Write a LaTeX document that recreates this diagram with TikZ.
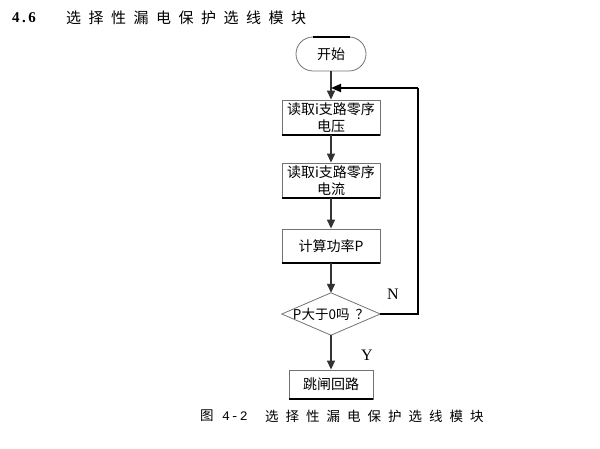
\documentclass[tikz,border=0pt]{standalone}
\usepackage{fontspec}
\setmainfont{Liberation Serif}
\newfontfamily\cjk{Noto Sans CJK SC}
\newfontfamily\latm{Liberation Mono}
\usetikzlibrary{arrows.meta,shapes.geometric}
\newcommand\tgap{\hspace{7.5pt}}
\newcommand\cgap{\hspace{7pt}}
\tikzset{
  flowbox/.style={draw=black!55, line width=0.8pt, minimum width=98pt, minimum height=35pt,
    inner sep=0pt, align=center, font=\cjk\fontsize{14}{17}\selectfont},
  startbox/.style={draw=black!55, line width=0.8pt, rounded corners=17pt, minimum width=70pt,
    minimum height=34pt, inner sep=0pt, font=\cjk\fontsize{14}{17}\selectfont},
  botline/.style={line width=2pt, black},
  conn/.style={line width=1.4pt, black!80, -{Triangle[width=8pt,length=9pt]}},
  loopline/.style={line width=1.8pt, black},
  lbl/.style={font=\fontsize{16}{18}\selectfont, inner sep=0pt},
}
\begin{document}
\begin{tikzpicture}[x=1pt,y=-1pt]
\useasboundingbox (0,0) rectangle (600,449);
% title
\node[anchor=west, inner sep=0pt, font=\bfseries\fontsize{15}{17}\selectfont] (tnum) at (12,18) {4\hspace{2.5pt}.\hspace{2.5pt}6};
\node[anchor=west, inner sep=0pt, font=\cjk\fontsize{15}{17}\selectfont] (ttl) at (66,18)
  {选\tgap 择\tgap 性\tgap 漏\tgap 电\tgap 保\tgap 护\tgap 选\tgap 线\tgap 模\tgap 块};
% nodes
\node[startbox] (s) at (331,54) {开始};
\node[flowbox] (b1) at (331,117.5) {读取i支路零序\\电压};
\node[flowbox] (b2) at (331,180.5) {读取i支路零序\\电流};
\node[flowbox, minimum height=34pt] (b3) at (331,246) {计算功率P};
\node[minimum width=98pt, minimum height=42pt, inner sep=0pt, font=\cjk\fontsize{13.5}{15}\selectfont] (d) at (331,314) {P大于0吗\hspace{6pt}？};
\draw[draw=black!55, line width=0.8pt] (d.north) -- (d.east) -- (d.south) -- (d.west) -- cycle;
\node[flowbox, minimum width=84pt, minimum height=29pt] (b4) at (331,384.5) {跳闸回路};
% thick shadow edges
\draw[botline] ([xshift=-18pt]s.north) -- ([xshift=19pt]s.north);
\draw[botline] (b1.south west) -- (b1.south east);
\draw[botline] (b2.south west) -- (b2.south east);
\draw[botline] (b3.south west) -- (b3.south east);
\draw[botline] (b4.south west) -- (b4.south east);
% connectors
\draw[conn] (s.south) -- (b1.north);
\draw[conn] (b1.south) -- (b2.north);
\draw[conn] (b2.south) -- (b3.north);
\draw[conn] (b3.south) -- (d.north);
\draw[conn] (d.south) -- (b4.north);
\coordinate (j) at (331,88);
\coordinate (r) at (418,88);
\draw[loopline] (d.east) -| (r);
\draw[loopline, -{Triangle[width=8pt,length=10pt]}] (r) -- (j);
% labels
\node[lbl] (n) at (393,294) {N};
\node[lbl] (y) at (367,355) {Y};
% caption
\node[anchor=west, inner sep=0pt, font=\cjk\fontsize{13.5}{16}\selectfont] (c1) at (200,416) {图};
\node[anchor=west, inner sep=0pt, font=\latm\fontsize{13}{16}\selectfont] (c2) at (222,416) {4\hspace{1pt}-\hspace{1pt}2};
\node[anchor=west, inner sep=0pt, font=\cjk\fontsize{13.5}{16}\selectfont] (c3) at (265,416)
  {选\cgap 择\cgap 性\cgap 漏\cgap 电\cgap 保\cgap 护\cgap 选\cgap 线\cgap 模\cgap 块};
\end{tikzpicture}
\end{document}
